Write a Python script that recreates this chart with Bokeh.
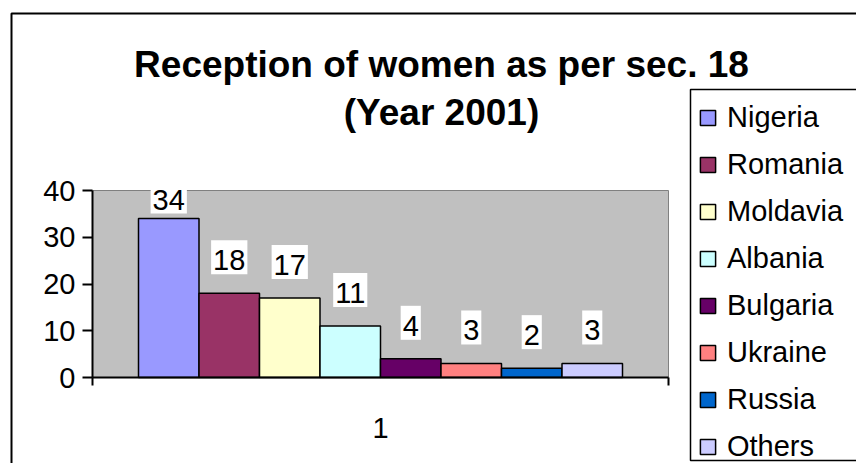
import numpy as np
from bokeh.plotting import figure
from bokeh.models import (ColumnDataSource, Range1d, FixedTicker, Legend, LegendItem,
                          Label, BoxAnnotation)
from bokeh.core.properties import value
from bokeh.embed import file_html
from bokeh.resources import INLINE

# ---- data ----
countries = ["Nigeria", "Romania", "Moldavia", "Albania", "Bulgaria", "Ukraine", "Russia", "Others"]
counts = [34, 18, 17, 11, 4, 3, 2, 3]
colors = ["#9999FF", "#993366", "#FFFFCC", "#CCFFFF", "#660066", "#FF8080", "#0066CC", "#CCCCFF"]
category = ["1"]
y_ticks = [0, 10, 20, 30, 40]
title_lines = ["Reception of women as per sec. 18", "(Year 2001)"]

# ---- layout (page pixels) ----
W, H = 856, 463
PL, PR, PT, PB = 92, 668, 190, 377     # plot area (grey) edges
Y_MAX = 40
FONT = "Liberation Sans"
SX = (PR - PL)            # px per x unit (category width = 1)
SY = (PB - PT) / Y_MAX    # px per y unit


def dx(px):
    return (px - PL) / SX


def dy(py):
    return (PB - py) / SY


n = len(counts)
bar_w = 60.5 / SX
xs = [0.5 + (i - (n - 1) / 2) * bar_w for i in range(n)]
label_y = [min(v + 21 / SY, Y_MAX - 21 / SY) for v in counts]

src = ColumnDataSource(dict(x=xs, top=counts, color=colors, country=countries,
                            label=[str(v) for v in counts], ly=label_y))

p = figure(width=W, height=H, x_range=Range1d(dx(0), dx(W)), y_range=Range1d(dy(H), dy(0)),
           output_backend="svg", toolbar_location=None, title=None,
           min_border=0, min_border_left=0, min_border_right=0,
           min_border_top=0, min_border_bottom=0)

p.background_fill_color = "white"
p.border_fill_color = "white"
p.outline_line_color = None
p.xgrid.visible = False
p.ygrid.visible = False

# grey plot area
p.add_layout(BoxAnnotation(left=0, right=1, bottom=0, top=Y_MAX, fill_color="#C0C0C0",
                           fill_alpha=1, line_color="#808080", line_alpha=1,
                           line_width=1, level="underlay"))

r = p.vbar(x="x", top="top", bottom=0, width=bar_w, source=src,
           fill_color="color", line_color="black", line_width=1.5)

p.text(x="x", y="ly", text="label", source=src, text_align="center",
       text_baseline="alphabetic", text_font=value(FONT), text_font_size="29px",
       text_color="black", background_fill_color="white", y_offset=-15,
       padding=dict(left=2, right=2, top=10, bottom=4))

# axes
ya = p.yaxis[0]
ya.fixed_location = 0
ya.bounds = (0, Y_MAX)
ya.ticker = FixedTicker(ticks=y_ticks)
ya.axis_line_width = 2
ya.axis_line_color = "black"
ya.major_tick_out = 10
ya.major_tick_in = 0
ya.major_tick_line_width = 2
ya.minor_tick_line_color = None
ya.major_label_standoff = 7
ya.major_label_text_font = FONT
ya.major_label_text_font_size = "29px"
ya.major_label_text_color = "black"

xa = p.xaxis[0]
xa.fixed_location = 0
xa.bounds = (0, 1)
xa.ticker = FixedTicker(ticks=[0.5], minor_ticks=[0, 1])
xa.major_label_overrides = {0.5: category[0]}
xa.axis_line_width = 2
xa.axis_line_color = "black"
xa.major_tick_line_color = None
xa.major_tick_out = 0
xa.major_tick_in = 0
xa.minor_tick_out = 8
xa.minor_tick_in = 0
xa.minor_tick_line_width = 2
xa.minor_tick_line_color = "black"
xa.major_label_standoff = 32
xa.major_label_text_font = FONT
xa.major_label_text_font_size = "29px"
xa.major_label_text_color = "black"

# title
for t, base in zip(title_lines, [64, 112]):
    p.add_layout(Label(x=dx(441), y=dy(base), text=t, text_align="center",
                       text_baseline="alphabetic", text_font=FONT,
                       text_font_size="37px", text_font_style="bold",
                       text_color="black"))

# legend
items = [LegendItem(label=c, renderers=[r], index=i) for i, c in enumerate(countries)]
legend = Legend(items=items, location=(698, -3), orientation="vertical",
                padding=0, margin=0, spacing=7, label_height=40,
                glyph_height=19, glyph_width=19, label_standoff=10,
                label_text_font=FONT, label_text_font_size="29px",
                label_text_color="black",
                border_line_alpha=0, background_fill_alpha=0)
p.add_layout(legend)

# legend frame and chart frame
p.add_layout(BoxAnnotation(left=dx(690), right=dx(W + 20), top=dy(89), bottom=dy(460),
                           fill_alpha=0, line_color="black", line_alpha=1,
                           line_width=1.5))
p.add_layout(BoxAnnotation(left=dx(11), right=dx(W + 20), top=dy(13), bottom=dy(H + 20),
                           fill_alpha=0, line_color="black", line_alpha=1,
                           line_width=2))

open("out.html", "w").write(file_html(p, INLINE))
